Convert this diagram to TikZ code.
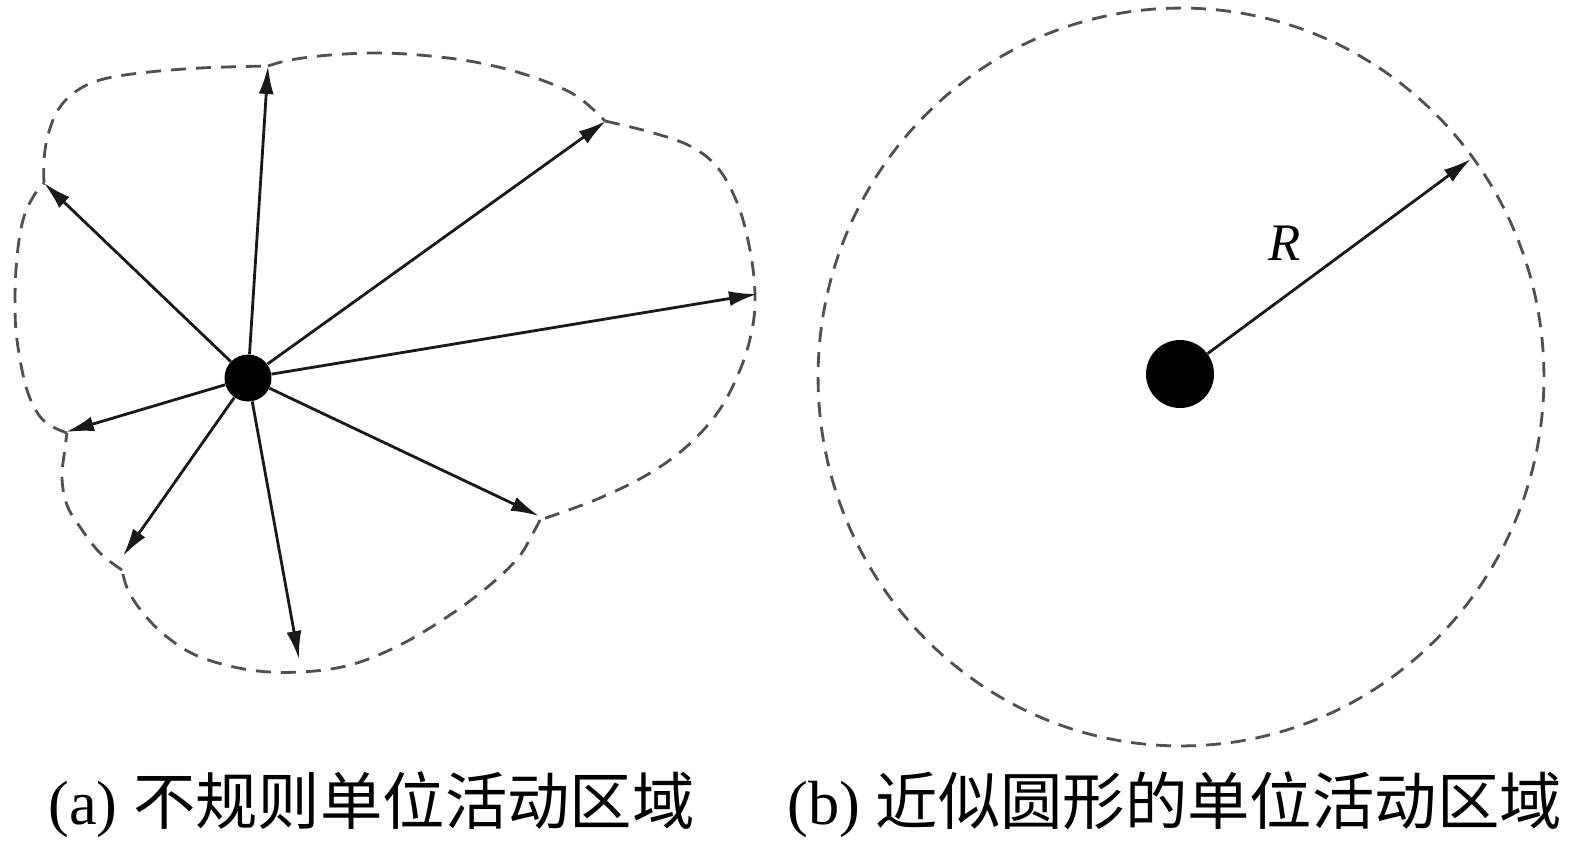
\documentclass[tikz,border=0pt]{standalone}
\usepackage{fontspec}
\setmainfont{Liberation Serif}
\newfontfamily\cjk{Noto Sans CJK SC}
\usetikzlibrary{arrows.meta}
\definecolor{bndgray}{RGB}{80,80,80}
\tikzset{
  bnd/.style={draw=bndgray, line width=1.6pt, dash pattern=on 0.3cm off 0.2cm},
  ray/.style={draw=black!90, line width=1.6pt, -{Latex[length=0.56cm,width=0.3cm]}},
  dot/.style={circle, fill=black, inner sep=0pt},
  captext/.style={anchor=base west, inner sep=0pt, font=\fontsize{35.5}{40}\selectfont},
  lbl/.style={inner sep=0pt, font=\fontsize{30}{34}\selectfont\itshape}
}
\begin{document}
\begin{tikzpicture}[x=0.02cm,y=-0.02cm]
\useasboundingbox (0,0) rectangle (1575,850);
% (a) irregular region boundary
\draw[bnd] plot[smooth, tension=0.6] coordinates {(67,433) (43,420) (27,390) (17,340) (15,300) (17,257) (23,220) (33,197) (44,183)};
\draw[bnd] plot[smooth, tension=0.6] coordinates {(44,183) (44,160) (48,135) (58,110) (75,92) (100,80) (140,73) (200,68) (268,66)};
\draw[bnd] plot[smooth, tension=0.6] coordinates {(268,66) (290,60) (330,55) (380,53) (430,56) (480,63) (530,76) (575,95) (605,121)};
\draw[bnd] plot[smooth, tension=0.6] coordinates {(605,121) (650,132) (690,146) (718,168) (738,205) (750,250) (755,294) (752,330) (740,370) (718,412) (685,448) (645,476) (595,500) (540,520)};
\draw[bnd] plot[smooth, tension=0.6] coordinates {(540,520) (532,535) (518,558) (490,585) (450,615) (400,645) (350,665) (300,672) (250,670) (200,657) (167,637) (143,613) (128,590) (122,570)};
\draw[bnd] plot[smooth, tension=0.6] coordinates {(122,570) (100,553) (80,527) (67,505) (62,478) (65,448) (67,433)};
% (a) centre and rays
\node[dot, minimum size=0.94cm] (cA) at (248,378) {};
\coordinate (t1) at (268,66);
\coordinate (t2) at (44,183);
\coordinate (t3) at (606,121);
\coordinate (t4) at (757,294);
\coordinate (t5) at (66,432);
\coordinate (t6) at (123,556);
\coordinate (t7) at (299,659);
\coordinate (t8) at (539,516);
\foreach \t in {t1,t2,t3,t4,t5,t6,t7,t8} \draw[ray] (cA) -- (\t);
% (b) circle region
\draw[bnd] (1181,377) ellipse [x radius=7.26cm, y radius=7.38cm];
\node[dot, minimum size=1.36cm] (cB) at (1180,374) {};
\coordinate (tb) at (1471,159);
\draw[ray] (cB) -- (tb);
\node[lbl] (R) at (1285,243) {R};
% captions
\node[captext] (capA) at (48,824) {(a) {\cjk 不规则单位活动区域}};
\node[captext] (capB) at (787,824) {(b) {\cjk 近似圆形的单位活动区域}};
\end{tikzpicture}
\end{document}
